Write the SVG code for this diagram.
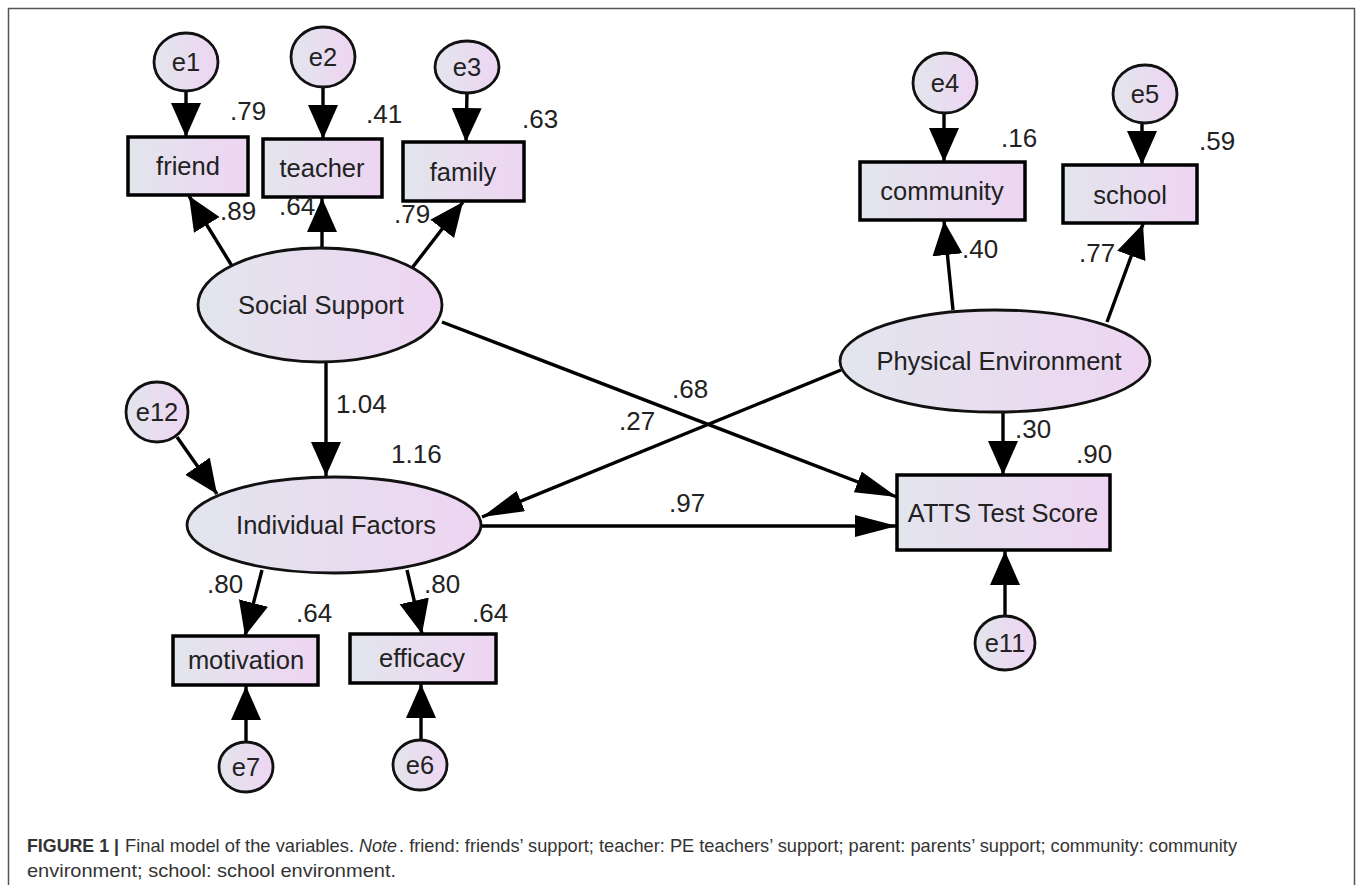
<svg xmlns="http://www.w3.org/2000/svg" width="1358" height="885" viewBox="0 0 1358 885">
<style>
.n{stroke:#000;stroke-width:3.5;fill:url(#g)}
.c{stroke:#111;stroke-width:2.8;fill:url(#g)}
.t{font-family:"Liberation Sans",Arial,sans-serif;font-size:25.5px;fill:#222;text-anchor:middle}
.v{font-family:"Liberation Sans",Arial,sans-serif;font-size:26px;fill:#222}
.e{stroke:#000;stroke-width:3.4;fill:none}
.cap{font-family:"Liberation Sans",Arial,sans-serif;font-size:19px;fill:#333}
</style>
<defs>
<linearGradient id="g" x1="0" y1="0" x2="1" y2="0">
<stop offset="0" stop-color="#e2e5ed"/>
<stop offset="1" stop-color="#eed5f2"/>
</linearGradient>
<marker id="a" markerUnits="userSpaceOnUse" markerWidth="40" markerHeight="32" refX="34" refY="15" orient="auto">
<path d="M0,0 L34,15 L0,30 z" fill="#000"/>
</marker>
<marker id="b" markerUnits="userSpaceOnUse" markerWidth="44" markerHeight="26" refX="42" refY="11" orient="auto">
<path d="M0,0 L42,11 L0,22 z" fill="#000"/>
</marker>
</defs>
<rect x="8.5" y="8.5" width="1346" height="900" fill="#fff" stroke="#555" stroke-width="1.5"/>

<g id="connectors">
<line class="e" x1="186" y1="91" x2="186" y2="137" marker-end="url(#a)"/>
<line class="e" x1="323" y1="87" x2="323" y2="139" marker-end="url(#a)"/>
<line class="e" x1="467" y1="92" x2="466" y2="142" marker-end="url(#a)"/>
<line class="e" x1="232" y1="266" x2="189" y2="196" marker-end="url(#a)"/>
<line class="e" x1="322" y1="249" x2="322" y2="198" marker-end="url(#a)"/>
<line class="e" x1="412" y1="268" x2="463" y2="202" marker-end="url(#a)"/>
<line class="e" x1="944" y1="113" x2="944" y2="162" marker-end="url(#a)"/>
<line class="e" x1="1142" y1="124" x2="1142" y2="165" marker-end="url(#a)"/>
<line class="e" x1="953" y1="310" x2="944" y2="221" marker-end="url(#a)"/>
<line class="e" x1="1107" y1="322" x2="1143" y2="224" marker-end="url(#a)"/>
<line class="e" x1="1003" y1="411" x2="1003" y2="475" marker-end="url(#a)"/>
<line class="e" x1="1005" y1="617" x2="1005" y2="551" marker-end="url(#a)"/>
<line class="e" x1="326" y1="362" x2="326" y2="476" marker-end="url(#a)"/>
<line class="e" x1="177" y1="437" x2="217" y2="494" marker-end="url(#a)"/>
<line class="e" x1="442" y1="322" x2="897" y2="497" marker-end="url(#b)"/>
<line class="e" x1="841" y1="370" x2="482" y2="517" marker-end="url(#b)"/>
<line class="e" x1="482" y1="526" x2="897" y2="526" marker-end="url(#b)"/>
<line class="e" x1="262" y1="570" x2="245" y2="636" marker-end="url(#a)"/>
<line class="e" x1="407" y1="570" x2="422" y2="634" marker-end="url(#a)"/>
<line class="e" x1="246" y1="742" x2="246" y2="686" marker-end="url(#a)"/>
<line class="e" x1="421" y1="740" x2="421" y2="684" marker-end="url(#a)"/>
</g>

<g id="e1"><ellipse class="c" cx="186" cy="62" rx="32" ry="29"/><text class="t" x="186" y="71">e1</text></g>
<g id="e2"><ellipse class="c" cx="323" cy="57" rx="32" ry="30"/><text class="t" x="323" y="66">e2</text></g>
<g id="e3"><ellipse class="c" cx="467" cy="67" rx="32" ry="26"/><text class="t" x="467" y="76">e3</text></g>
<g id="e4"><ellipse class="c" cx="945" cy="83" rx="32" ry="30"/><text class="t" x="945" y="92">e4</text></g>
<g id="e5"><ellipse class="c" cx="1145" cy="94" rx="32" ry="29"/><text class="t" x="1145" y="103">e5</text></g>
<g id="e12"><ellipse class="c" cx="157" cy="412" rx="31" ry="30"/><text class="t" x="157" y="421">e12</text></g>
<g id="e11"><ellipse class="c" cx="1005" cy="643" rx="30" ry="27"/><text class="t" x="1005" y="652">e11</text></g>
<g id="e7"><ellipse class="c" cx="246" cy="767" rx="27" ry="25"/><text class="t" x="246" y="776">e7</text></g>
<g id="e6"><ellipse class="c" cx="420" cy="765" rx="27" ry="25"/><text class="t" x="420" y="774">e6</text></g>

<g id="friend"><rect class="n" x="128" y="137" width="120" height="58"/><text class="t" x="188" y="175">friend</text></g>
<g id="teacher"><rect class="n" x="263" y="139" width="119" height="58"/><text class="t" x="322" y="177">teacher</text></g>
<g id="family"><rect class="n" x="403" y="142" width="121" height="59"/><text class="t" x="463" y="181">family</text></g>
<g id="community"><rect class="n" x="860" y="162" width="165" height="58"/><text class="t" x="942" y="200">community</text></g>
<g id="school"><rect class="n" x="1063" y="165" width="134" height="58"/><text class="t" x="1130" y="204">school</text></g>
<g id="atts"><rect class="n" x="897" y="475" width="213" height="75"/><text class="t" x="1003" y="522">ATTS Test Score</text></g>
<g id="motivation"><rect class="n" x="173" y="636" width="145" height="49"/><text class="t" x="246" y="669">motivation</text></g>
<g id="efficacy"><rect class="n" x="350" y="634" width="146" height="49"/><text class="t" x="422" y="667">efficacy</text></g>

<g id="social"><ellipse class="c" cx="320" cy="305" rx="122" ry="57"/><text class="t" x="321" y="314">Social Support</text></g>
<g id="individual"><ellipse class="c" cx="334" cy="525" rx="147" ry="48"/><text class="t" x="336" y="534">Individual Factors</text></g>
<g id="physical"><ellipse class="c" cx="995" cy="361" rx="155" ry="51"/><text class="t" x="999" y="370">Physical Environment</text></g>

<g id="values">
<text class="v" x="230" y="120">.79</text>
<text class="v" x="366" y="123">.41</text>
<text class="v" x="522" y="128">.63</text>
<text class="v" x="220" y="220">.89</text>
<text class="v" x="279" y="215">.64</text>
<text class="v" x="394" y="223">.79</text>
<text class="v" x="1001" y="147">.16</text>
<text class="v" x="1199" y="150">.59</text>
<text class="v" x="962" y="258">.40</text>
<text class="v" x="1079" y="262">.77</text>
<text class="v" x="1015" y="438">.30</text>
<text class="v" x="1076" y="463">.90</text>
<text class="v" x="336" y="413">1.04</text>
<text class="v" x="391" y="463">1.16</text>
<text class="v" x="619" y="430">.27</text>
<text class="v" x="672" y="398">.68</text>
<text class="v" x="669" y="512">.97</text>
<text class="v" x="207" y="593">.80</text>
<text class="v" x="296" y="622">.64</text>
<text class="v" x="424" y="593">.80</text>
<text class="v" x="472" y="622">.64</text>
</g>

<g id="caption">
<text class="cap" x="27" y="852" font-weight="bold" fill="#222" textLength="92" lengthAdjust="spacingAndGlyphs">FIGURE 1 |</text>
<text class="cap" x="125" y="852" textLength="229" lengthAdjust="spacingAndGlyphs">Final model of the variables.</text>
<text class="cap" x="359" y="852" font-style="italic" textLength="38" lengthAdjust="spacingAndGlyphs">Note</text>
<text class="cap" x="399" y="852" textLength="838" lengthAdjust="spacingAndGlyphs">. friend: friends’ support; teacher: PE teachers’ support; parent: parents’ support; community: community</text>
<text class="cap" x="27" y="877" textLength="369" lengthAdjust="spacingAndGlyphs">environment; school: school environment.</text>
</g>
</svg>
